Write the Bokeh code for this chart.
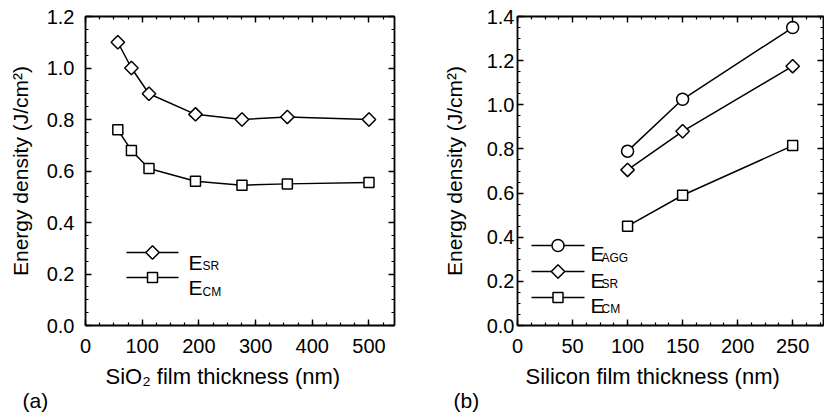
import numpy as np
from bokeh.plotting import figure
from bokeh.models import (LinearAxis, SingleIntervalTicker, NumeralTickFormatter,
                          CustomJSTickFormatter, Range1d, Label, Title)
from bokeh.layouts import row
from bokeh.embed import file_html
from bokeh.resources import INLINE

FONT = "Liberation Sans"

# ---------------- data ----------------
# Panel (a): SiO2 film thickness (nm)
sio2_thickness = [57, 81, 112, 194, 276, 356, 500]
a_esr = [1.10, 1.00, 0.90, 0.82, 0.80, 0.81, 0.80]
a_ecm = [0.76, 0.68, 0.61, 0.56, 0.545, 0.55, 0.555]

# Panel (b): Silicon film thickness (nm)
si_thickness = [100, 150, 250]
b_eagg = [0.79, 1.025, 1.35]
b_esr = [0.705, 0.88, 1.175]
b_ecm = [0.45, 0.59, 0.815]

y_title = "Energy density (J/cm\u00b2)"
a_x_title = "SiO\u2082 film thickness (nm)"
b_x_title = "Silicon film thickness (nm)"
a_legend = ["SR", "CM"]
b_legend = ["AGG", "SR", "CM"]

H = 416          # figure height
FR_TOP = 16      # frame top (px)
FR_BOT = 325     # frame bottom (px)


def style_axis(ax, ticker, fmt=None, show_labels=True, standoff=10,
               title=None, title_standoff=10):
    ax.ticker = ticker
    ax.axis_line_width = 1.8
    ax.axis_line_color = "black"
    ax.major_tick_in = 6
    ax.major_tick_out = 0
    ax.minor_tick_in = 3
    ax.minor_tick_out = 0
    ax.major_tick_line_width = 1.4
    ax.minor_tick_line_width = 1.2
    ax.major_tick_line_color = "black"
    ax.minor_tick_line_color = "black"
    if show_labels:
        if fmt is not None:
            ax.formatter = fmt
        ax.major_label_text_font = FONT
        ax.major_label_text_font_size = "20px"
        ax.major_label_text_color = "black"
        ax.major_label_standoff = standoff
    else:
        ax.formatter = CustomJSTickFormatter(code="return ''")
        ax.major_label_text_font_size = "1px"
        ax.major_label_standoff = 0
    if title is not None:
        ax.axis_label = title
        ax.axis_label_text_font = FONT
        ax.axis_label_text_font_size = "21px"
        ax.axis_label_text_font_style = "normal"
        ax.axis_label_text_color = "black"
        ax.axis_label_standoff = title_standoff


def make_panel(width, xmax, ymax, xint, mbl, mbr, ystandoff, ytitle_standoff):
    p = figure(width=width, height=H,
               x_range=Range1d(0, xmax), y_range=Range1d(0, ymax + 1e-9),
               output_backend="svg", toolbar_location=None,
               min_border_left=mbl, min_border_right=mbr,
               min_border_top=FR_TOP, min_border_bottom=H - FR_BOT)
    p.outline_line_color = None
    p.grid.visible = False
    p.background_fill_color = "white"
    p.border_fill_color = "white"
    yt = lambda: SingleIntervalTicker(interval=0.2, num_minor_ticks=4)
    xt = lambda: SingleIntervalTicker(interval=xint, num_minor_ticks=4)
    style_axis(p.xaxis[0], xt(), show_labels=True, standoff=13)
    style_axis(p.yaxis[0], yt(), NumeralTickFormatter(format="0.0"),
               show_labels=True, standoff=ystandoff, title=y_title,
               title_standoff=ytitle_standoff)
    top = LinearAxis()
    style_axis(top, xt(), show_labels=False)
    p.add_layout(top, "above")
    right = LinearAxis()
    style_axis(right, yt(), show_labels=False)
    p.add_layout(right, "right")
    return p


def below_title(p, t, size, offset, standoff):
    p.add_layout(Title(text=t, align="left", offset=offset, standoff=standoff,
                       text_font=FONT, text_font_size=size,
                       text_font_style="normal", text_color="black"), "below")


class PX:
    """Maps page pixel positions (legend layout) to data units."""
    def __init__(self, fl, fr, xmax, ymax):
        self.fl, self.fr, self.xmax, self.ymax = fl, fr, xmax, ymax

    def x(self, px):
        return (px - self.fl) / (self.fr - self.fl) * self.xmax

    def y(self, py):
        return (FR_BOT - py) / (FR_BOT - FR_TOP) * self.ymax


def series(p, x, y, marker, size, angle=0.0):
    p.line(x, y, line_color="black", line_width=1.5)
    p.scatter(x, y, marker=marker, size=size, angle=angle,
              fill_color="white", line_color="black", line_width=1.5)


def text(p, t, x, y, size, align="left", baseline="alphabetic"):
    p.add_layout(Label(x=x, y=y, text=t, text_font=FONT,
                       text_font_size=size, text_color="black",
                       text_baseline=baseline, text_align=align))


def legend_row(p, m, key_x0, key_x1, key_y, marker, size, angle, e_x, e_base,
               sub_txt, sub_x, sub_base):
    xs = [m.x(key_x0), m.x(key_x1)]
    ys = [m.y(key_y), m.y(key_y)]
    p.line(xs, ys, line_color="black", line_width=1.5)
    p.scatter([m.x((key_x0 + key_x1) / 2)], [m.y(key_y)], marker=marker,
              size=size, angle=angle, fill_color="white", line_color="black",
              line_width=1.5)
    text(p, "E", m.x(e_x), m.y(e_base), "21px")
    text(p, sub_txt, m.x(sub_x), m.y(sub_base), "12px")


DIAMOND = dict(marker="square", size=9.5, angle=np.pi / 4)
SQUARE = dict(marker="square", size=10, angle=0.0)
CIRCLE = dict(marker="circle", size=12, angle=0.0)

# ---------------- panel (a) ----------------
A_XMAX, A_YMAX = 545, 1.2
pa = make_panel(415, A_XMAX, A_YMAX, 100, 85, 21, 11, 12)
ma = PX(85, 394, A_XMAX, A_YMAX)
series(pa, sio2_thickness, a_esr, **DIAMOND)
series(pa, sio2_thickness, a_ecm, **SQUARE)
legend_row(pa, ma, 126, 178, 252, **DIAMOND, e_x=188, e_base=262,
           sub_txt=a_legend[0], sub_x=202, sub_base=265)
legend_row(pa, ma, 126, 178, 277, **SQUARE, e_x=188, e_base=287,
           sub_txt=a_legend[1], sub_x=202, sub_base=291)
below_title(pa, a_x_title, "22px", 20, 13)
below_title(pa, "(a)", "21px", -63, -17)

# ---------------- panel (b) ----------------
B_XMAX, B_YMAX = 278, 1.4
pb = make_panel(409, B_XMAX, B_YMAX, 50, 102, 1, 3, 18)
mb = PX(517, 823, B_XMAX, B_YMAX)
series(pb, si_thickness, b_eagg, **CIRCLE)
series(pb, si_thickness, b_esr, **DIAMOND)
series(pb, si_thickness, b_ecm, **SQUARE)
legend_row(pb, mb, 531, 584, 245, **CIRCLE, e_x=590, e_base=253,
           sub_txt=b_legend[0], sub_x=601, sub_base=257)
legend_row(pb, mb, 531, 584, 271, **DIAMOND, e_x=590, e_base=280,
           sub_txt=b_legend[1], sub_x=601, sub_base=283)
legend_row(pb, mb, 531, 584, 297, **SQUARE, e_x=590, e_base=305,
           sub_txt=b_legend[2], sub_x=601, sub_base=308)
below_title(pb, b_x_title, "22px", 8, 13)
below_title(pb, "(b)", "21px", -64, -17)

layout = row(pa, pb, spacing=0)
open("out.html", "w").write(file_html(layout, INLINE))
